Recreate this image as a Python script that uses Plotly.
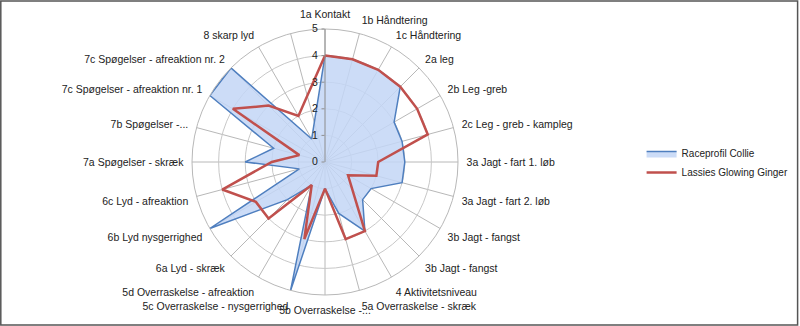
import plotly.graph_objects as go

categories = [
    "1a Kontakt", "1b Håndtering", "1c Håndtering", "2a leg", "2b Leg -greb",
    "2c Leg - greb - kampleg", "3a Jagt - fart 1. løb", "3a Jagt - fart 2. løb",
    "3b Jagt - fangst", "3b Jagt - fangst", "4 Aktivitetsniveau",
    "5a Overraskelse - skræk", "5b Overraskelse -...", "5c Overraskelse - nysgerrighed",
    "5d Overraskelse - afreaktion", "6a Lyd - skræk", "6b Lyd nysgerrighed",
    "6c Lyd - afreaktion", "7a Spøgelser - skræk", "7b Spøgelser -...",
    "7c Spøgelser - afreaktion nr. 1", "7c Spøgelser - afreaktion nr. 2",
    "8 skarp lyd", "",
]
collie = [4, 4, 4, 4, 3, 3, 3, 3, 2, 2, 3, 2, 1, 5, 1, 2, 5, 1, 3, 2, 5, 5, 1, None]
ginger = [4, 4, 4, 4, 4, 4, 2, 2, 1, None, 3, 3, 1, 3, 1, 3, 3, 4, 2, 1, 4, 3, 2, None]
radial_ticks = [0, 1, 2, 3, 4, 5]

n = len(categories)
step = 360 / n
theta = [i * step for i in range(n)]

font = "Liberation Sans"

fig = go.Figure()
fig.add_trace(go.Scatterpolar(
    r=collie + [collie[0]], theta=theta + [theta[0]],
    mode="lines", fill="toself", connectgaps=True,
    fillcolor="rgba(195,214,246,0.85)",
    line=dict(color="#4f7fbf", width=1.5),
    name="Raceprofil Collie",
))
fig.add_trace(go.Scatterpolar(
    r=ginger + [ginger[0]], theta=theta + [theta[0]],
    mode="lines", connectgaps=True,
    line=dict(color="#c0504d", width=2.5),
    name="Lassies Glowing Ginger",
))

fig.update_layout(
    width=800, height=326,
    margin=dict(l=0, r=0, t=0, b=0),
    paper_bgcolor="white",
    font=dict(family=font, size=10, color="#222"),
    polar=dict(
        domain=dict(x=[192 / 800, 458 / 800], y=[31 / 326, 297 / 326]),
        bgcolor="white",
        angularaxis=dict(
            rotation=90, direction="clockwise",
            thetaunit="degrees",
            tickmode="array", tickvals=theta, ticktext=categories,
            showgrid=True, gridcolor="#b8b8b8", gridwidth=1,
            linecolor="#b8b8b8", linewidth=1,
            ticks="outside", ticklen=6, tickcolor="rgba(0,0,0,0)",
            tickfont=dict(size=10.5, family=font, color="#222"),
        ),
        radialaxis=dict(
            range=[0, 5], tickvals=radial_ticks, angle=90,
            tickangle=90,
            showgrid=True, gridcolor="#c8c8c8", gridwidth=1,
            showline=True, linecolor="#909090", linewidth=1,
            ticks="outside", ticklen=3, tickcolor="#909090",
            tickfont=dict(size=10.5, family=font, color="#222"),
            side="counterclockwise",
        ),
    ),
    legend=dict(
        x=0.802, y=0.5, xanchor="left", yanchor="middle",
        font=dict(size=10, family=font, color="#222"),
        bgcolor="rgba(0,0,0,0)", itemwidth=30,
    ),
    shapes=[dict(type="rect", xref="paper", yref="paper", x0=0.001, y0=0.003,
                 x1=0.997, y1=0.997, line=dict(color="#555", width=1.5))],
)

fig.write_html("out.html")
